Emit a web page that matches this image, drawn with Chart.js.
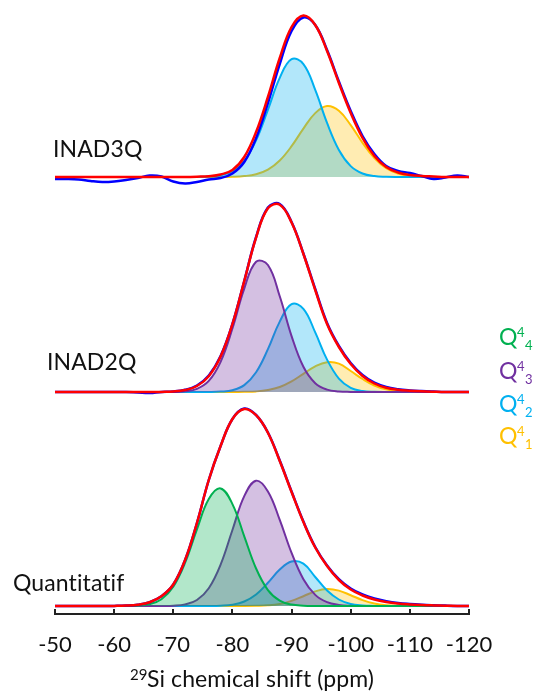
<!DOCTYPE html>
<html>
<head>
<meta charset="utf-8">
<script src="https://cdn.jsdelivr.net/npm/chart.js"></script>
<style>
	html, body { margin:0; padding:0; background:#fff; }
	#wrap { width:535px; height:693px; position:relative; }
</style>
</head>
<body>
<div id="wrap"><canvas id="nmr"></canvas></div>
<script>
// chemical shift grid (ppm), one point every 2 ppm
const ppm = [-50,-52,-54,-56,-58,-60,-62,-64,-66,-68,-70,-72,-74,-76,-78,-80,-82,-84,-86,-88,-90,-92,-94,-96,-98,-100,-102,-104,-106,-108,-110,-112,-114,-116,-118,-120];
const xTicks = [-50,-60,-70,-80,-90,-100,-110,-120];

// INAD3Q : experimental, fit, Q4_2, Q4_1
const inad3qExp = [-2,-2,-2.5,-4,-5,-4.5,-3,-1,1.5,0.5,-4.5,-6.5,-5,-2.5,-1,3.5,15,39,74,113,146,159.5,152,127,95.5,66,41,23,11,6,4,1,-2,-0.5,1.5,0];
const inad3qFit = [0,0,0,0,0,0,0,0,0,0,0,0,0.3,0.8,2.5,7,20,45,80,119,150,161.5,152,126,94,64,39,21,10,4.5,2,1,0.5,0,0,0];
const inad3qQ2  = [0,0,0,0,0,0,0,0,0,0,0,0,0,0.4,1.6,5.7,16.1,36.6,67.2,99.1,117.8,112.9,87.1,54.1,27.1,10.9,3.5,0.9,0.2,0,0,0,0,0,0,0];
const inad3qQ1  = [0,0,0,0,0,0,0,0,0,0,0,0,0,0,0.1,0.2,0.9,2.8,7.4,16.5,30.8,48.4,63.9,70.9,66.2,51.9,34.2,19,8.8,3.5,1.1,0.3,0,0,0,0];

// INAD2Q : experimental, fit, Q4_3, Q4_2, Q4_1
const inad2qExp = [0,0,0,0,0,0,0,-0.5,-1,0.1,0.5,2.2,6.5,16.5,36,68,111,155,184.5,188,170,138.5,103,69,46,29,17,9.3,5,2.8,1.6,0.9,0.4,0,0,0];
const inad2qFit = [0,0,0,0,0,0,0,0,0,0.1,0.5,2,6,15.8,35.5,67.9,110.8,154.4,183.7,187.3,169.5,138,102,68,45,28,16,8.5,4.2,2.2,1.3,0.7,0.3,0,0,0];
const inad2qQ3  = [0,0,0,0,0,0,0,0,0,0,0,0.7,3.2,11.1,30.2,63.5,103.4,130.3,127,95.8,55.9,25.2,8.8,2.4,0.5,0.1,0,0,0,0,0,0,0,0,0,0];
const inad2qQ2  = [0,0,0,0,0,0,0,0,0,0,0,0,0,0,0.4,1.8,6.9,19.7,42.8,70.4,87.9,83.2,59.6,32.4,13.4,4.2,1,0.2,0,0,0,0,0,0,0,0];
const inad2qQ1  = [0,0,0,0,0,0,0,0,0,0,0,0,0,0,0,0,0.2,0.6,2,5,10.6,18.2,25.7,29.8,28.4,21,13,6.5,2.6,0.9,0.3,0,0,0,0,0];

// Quantitatif : experimental, fit, Q4_4, Q4_3, Q4_2, Q4_1
const quantExp = [0,0,0,0,0,0.1,0.4,1.3,3.8,9.7,21.5,46,83,126,160,187,197.5,191,173.5,145.5,114.5,84.5,59,40.5,26.8,17.5,11.5,7.5,4.8,3,2,1.3,0.8,0.4,0.1,0];
const quantFit = [0,0,0,0,0,0.1,0.4,1.3,3.8,9.7,21.5,46,83,126,160,187,197,190.8,173.3,145,114,84,58.5,40,26,16.5,10.5,6.5,4,2.5,1.6,1,0.6,0.3,0.1,0];
const quantQ4  = [0,0,0,0,0,0,0.1,0.4,1.9,6.8,19.3,43.3,76.6,106.9,117.6,101.9,69.7,37.5,15.9,5.3,1.4,0.3,0,0,0,0,0,0,0,0,0,0,0,0,0,0];
const quantQ3  = [0,0,0,0,0,0,0,0,0,0.1,0.3,1.6,6,17.8,41.4,76,109.9,125.3,114.6,86.1,53.1,26.8,11.1,3.8,1.1,0.2,0,0,0,0,0,0,0,0,0,0];
const quantQ2  = [0,0,0,0,0,0,0,0,0,0,0,0,0,0,0.3,1.3,4.5,11.5,23.2,36.4,44.5,42.3,29,15.5,6.5,2,0.5,0.1,0,0,0,0,0,0,0,0];
const quantQ1  = [0,0,0,0,0,0,0,0,0,0,0,0,0,0,0,0,0,0.2,0.7,2.1,5.1,9.8,14.6,17,15.4,10.8,5.9,2.5,0.8,0.2,0,0,0,0,0,0];

const spectrumNames = ['INAD3Q', 'INAD2Q', 'Quantitatif'];
const siteSup = '4';
const siteSubs = ['4', '3', '2', '1'];
const axisSup = '29';
const axisTitle = 'Si chemical shift (ppm)';

// layout / style (not data)
const W = 535, H = 693, AXIS_H = 79;
const offsets = [437, 222, 8];          // baseline of each stacked spectrum
const siteColors = ['#00B050', '#7030A0', '#00B0F0', '#FFC000'];
const siteFills = ['rgba(0,176,80,0.3)', 'rgba(112,48,160,0.3)', 'rgba(0,176,240,0.3)', 'rgba(255,192,0,0.3)'];
const FONT = 'Lato';

function pts(values, off){
	return ppm.map((x, i) => ({x: x, y: off + values[i]}));
}

function trace(values, off, color, width, order){
	return {
		data: pts(values, off), borderColor: color, borderWidth: width,
		pointRadius: 0, fill: false, tension: 0.4, order: order
	};
}

// site index: 0 = Q4_4, 1 = Q4_3, 2 = Q4_2, 3 = Q4_1
function band(values, off, site){
	return {
		data: pts(values, off), borderColor: siteColors[site], backgroundColor: siteFills[site],
		borderWidth: 2, pointRadius: 0, fill: {value: off}, tension: 0.4, order: 2 + site
	};
}

const datasets = [
	trace(inad3qExp, offsets[0], '#0000FF', 2.5, 1),
	trace(inad3qFit, offsets[0], '#FF0000', 2.5, 0),
	band(inad3qQ2, offsets[0], 2),
	band(inad3qQ1, offsets[0], 3),

	trace(inad2qExp, offsets[1], '#0000FF', 2.5, 1),
	trace(inad2qFit, offsets[1], '#FF0000', 2.5, 0),
	band(inad2qQ3, offsets[1], 1),
	band(inad2qQ2, offsets[1], 2),
	band(inad2qQ1, offsets[1], 3),

	trace(quantExp, offsets[2], '#0000FF', 2.5, 1),
	trace(quantFit, offsets[2], '#FF0000', 2.5, 0),
	band(quantQ4, offsets[2], 0),
	band(quantQ3, offsets[2], 1),
	band(quantQ2, offsets[2], 2),
	band(quantQ1, offsets[2], 3)
];

// labels, legend, inward tick marks and the axis title
const decor = {
	id: 'decor',
	afterDraw(chart){
		const ctx = chart.ctx;
		const xs = chart.scales.x;
		const bottom = chart.chartArea.bottom;
		ctx.save();

		ctx.strokeStyle = '#222';
		ctx.lineWidth = 2;
		xTicks.forEach(v => {
			const px = Math.round(xs.getPixelForValue(v));
			ctx.beginPath();
			ctx.moveTo(px, bottom);
			ctx.lineTo(px, bottom - 5);
			ctx.stroke();
		});

		// a tiny letter spacing keeps Lato from joining "ti" into a ligature
		ctx.letterSpacing = '0.1px';
		ctx.fillStyle = '#111';
		ctx.textBaseline = 'alphabetic';
		ctx.textAlign = 'left';
		ctx.font = '23px ' + FONT;
		ctx.fillText(spectrumNames[0], 53, 157);
		ctx.fillText(spectrumNames[1], 47, 370);
		ctx.fillText(spectrumNames[2], 13, 591);

		// legend Q4_n
		const rows = [345, 379, 412, 444];
		siteSubs.forEach((s, i) => {
			ctx.fillStyle = siteColors[i];
			ctx.font = '23px ' + FONT;
			ctx.fillText('Q', 499, rows[i]);
			ctx.font = '13px ' + FONT;
			ctx.fillText(siteSup, 517, rows[i] - 8);
			ctx.fillText(s, 525, rows[i] + 5);
		});

		// x axis title with superscript
		ctx.fillStyle = '#111';
		ctx.font = '15px ' + FONT;
		ctx.fillText(axisSup, 130, 680);
		ctx.font = '23px ' + FONT;
		ctx.fillText(axisTitle, 147, 687);

		ctx.restore();
	}
};

new Chart(document.getElementById('nmr'), {
	type: 'line',
	data: { datasets: datasets },
	options: {
		responsive: true,
		maintainAspectRatio: false,
		animation: false,
		layout: { padding: { left: 55, right: 66, top: 0, bottom: 0 } },
		plugins: { legend: { display: false }, tooltip: { enabled: false } },
		scales: {
			x: {
				type: 'linear',
				reverse: true,
				min: -120,
				max: -50,
				afterFit: (s) => { s.height = AXIS_H; },
				afterBuildTicks: (s) => { s.ticks = xTicks.map(v => ({value: v})); },
				grid: { display: false, drawTicks: false },
				border: { display: true, color: '#222', width: 2 },
				ticks: {
					autoSkip: false, maxRotation: 0, padding: 18,
					color: '#111', font: { family: FONT, size: 22 }
				}
			},
			y: {
				display: false,
				min: 0,
				max: H - AXIS_H
			}
		}
	},
	plugins: [decor]
});
</script>
</body>
</html>
